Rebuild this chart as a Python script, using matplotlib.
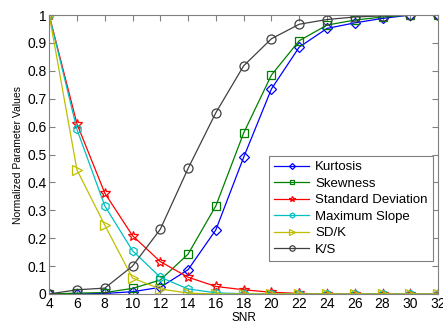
import matplotlib
matplotlib.use('Agg')
import matplotlib.pyplot as plt

plt.rcParams['font.family'] = ['Liberation Sans', 'DejaVu Sans']

snr = [4, 6, 8, 10, 12, 14, 16, 18, 20, 22, 24, 26, 28, 30, 32]
kurtosis = [0, 0, 0.002, 0.008, 0.024, 0.087, 0.23, 0.49, 0.735, 0.885, 0.952, 0.972, 0.988, 1, 1]
skewness = [0, 0.003, 0.005, 0.02, 0.05, 0.143, 0.316, 0.577, 0.785, 0.908, 0.964, 0.982, 0.993, 1, 1]
std_dev = [1, 0.61, 0.362, 0.209, 0.116, 0.06, 0.027, 0.015, 0.006, 0.002, 0, 0, 0, 0, 0]
max_slope = [1, 0.59, 0.316, 0.155, 0.06, 0.018, 0.004, 0.001, 0, 0, 0, 0, 0, 0, 0]
sd_k = [1, 0.445, 0.247, 0.057, 0.018, 0.003, 0, 0, 0, 0, 0, 0, 0, 0, 0]
k_s = [0, 0.015, 0.021, 0.10, 0.232, 0.45, 0.65, 0.818, 0.915, 0.967, 0.984, 0.993, 0.997, 1, 1]

series = [
    ('Kurtosis', kurtosis, '#0000ff', 'D', 5),
    ('Skewness', skewness, '#008000', 's', 5.5),
    ('Standard Deviation', std_dev, '#ff0000', '*', 7),
    ('Maximum Slope', max_slope, '#00bfbf', 'h', 6),
    ('SD/K', sd_k, '#bfbf00', '>', 7),
    ('K/S', k_s, '#404040', 'o', 6.5),
]

fig = plt.figure(figsize=(4.43, 3.27), dpi=100)
ax = fig.add_axes([0.111, 0.101, 0.878, 0.853])

for name, vals, col, mk, ms in series:
    ax.plot(snr, vals, color=col, marker=mk, markersize=ms, markerfacecolor='none',
            markeredgecolor=col, linewidth=0.9, markeredgewidth=0.9, label=name)

ax.set_xlim(4, 32)
ax.set_ylim(0, 1)
ax.set_xticks(range(4, 33, 2))
ax.set_yticks([i / 10 for i in range(11)])
ax.set_yticklabels(['0'] + ['0.%d' % i for i in range(1, 10)] + ['1'])
ax.tick_params(direction='in', top=True, right=True, labelsize=10, length=4,
               color='#808080', pad=2)
for s in ax.spines.values():
    s.set_color('#808080')
    s.set_linewidth(0.8)

ax.set_xlabel('SNR', fontsize=8.5, labelpad=1)
ax.set_ylabel('Normalized Parameter Values', fontsize=7.5, labelpad=3)

leg = ax.legend(loc='lower right', bbox_to_anchor=(0.987, 0.118), borderaxespad=0,
                fontsize=9.5, fancybox=False, framealpha=1, edgecolor='#808080',
                handlelength=2.6, labelspacing=0.32, borderpad=0.4, handletextpad=0.5,
                markerscale=0.6)
leg.get_frame().set_linewidth(0.8)

fig.savefig('out.png', dpi=100)
